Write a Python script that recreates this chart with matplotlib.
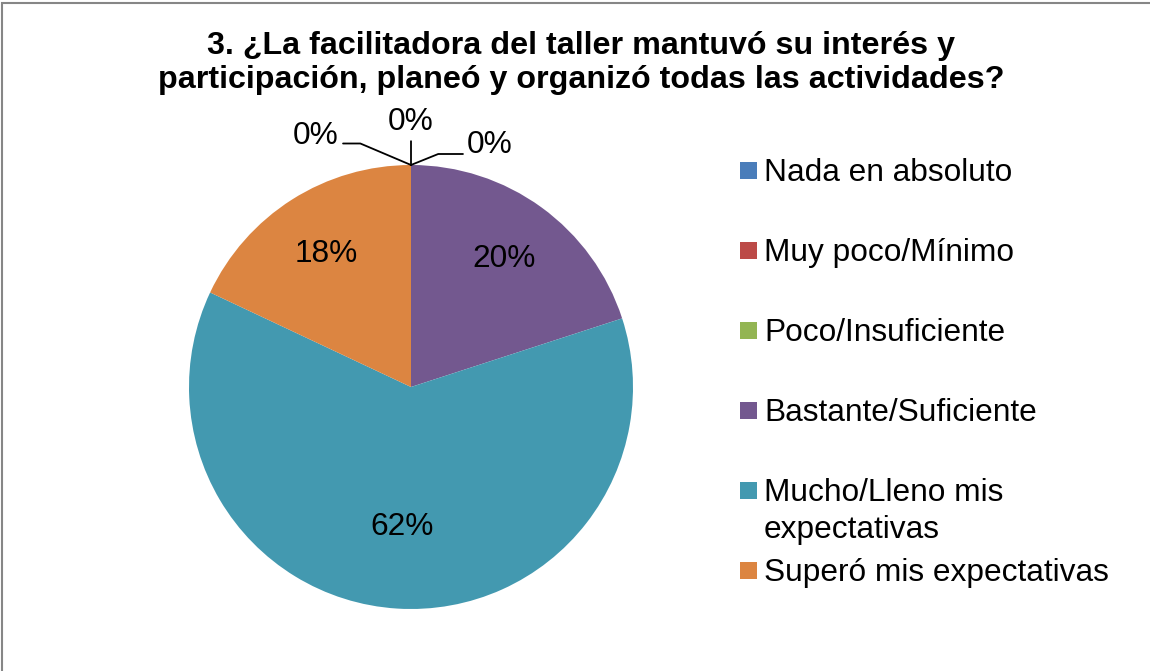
import numpy as np
import matplotlib
matplotlib.use("Agg")
import matplotlib.pyplot as plt
from matplotlib.patches import Rectangle

plt.rcParams["font.family"] = ["Liberation Sans", "DejaVu Sans"]

# data
categorias = ["Nada en absoluto", "Muy poco/Mínimo", "Poco/Insuficiente",
              "Bastante/Suficiente", "Mucho/Lleno mis\nexpectativas",
              "Superó mis expectativas"]
porcentajes = [0, 0, 0, 20, 62, 18]
colores = ["#4a7dba", "#bc4a47", "#93b553", "#73588f", "#4399b0", "#dc8541"]
titulo = "3. ¿La facilitadora del taller mantuvó su interés y\nparticipación, planeó y organizó todas las actividades?"

W, H = 1150, 671
fig = plt.figure(figsize=(W / 100, H / 100), dpi=100)

# chart border (only left/top visible in the crop)
fig.patches.append(Rectangle((2 / W, -0.1), 1.2, 1.1 - 2.5 / H, transform=fig.transFigure,
                             fill=False, edgecolor="#868686", linewidth=1.5))

# pie axes: centre (411, 387), radius 222 px
cx, cy, r = 411, 387, 222
ax = fig.add_axes([(cx - r) / W, (H - cy - r) / H, 2 * r / W, 2 * r / H])
wedges, _ = ax.pie(porcentajes, colors=colores, startangle=90, counterclock=False,
                   radius=1, wedgeprops=dict(linewidth=0))
ax.set_xlim(-1, 1)
ax.set_ylim(-1, 1)
ax.set_aspect("auto")
ax.axis("off")

fs = 22.8
dist = {3: 0.71, 4: 0.63, 5: 0.71}
ceros = []
for i, (w, p) in enumerate(zip(wedges, porcentajes)):
    ang = np.deg2rad((w.theta1 + w.theta2) / 2)
    if p > 0:
        d = dist.get(i, 0.7)
        ax.text(d * np.cos(ang), d * np.sin(ang), f"{p}%", ha="center", va="center",
                fontsize=fs)
    else:
        ceros.append((i, ang))

# zero-valued slices: labels with leader lines
offs = [(-95, 29, (1, 0.25), "angle,angleA=0,angleB=157,rad=0"),
        (0, 43, (0.5, 0.0), "arc3"),
        (79, 20, (0, 0.2), "angle,angleA=180,angleB=22,rad=0")]
for (i, ang), (dx, dy, rel, conn) in zip(ceros, offs):
    ax.annotate(f"{porcentajes[i]}%", xy=(np.cos(ang), np.sin(ang)),
                xytext=(dx, dy), textcoords="offset pixels",
                ha="center", va="center", fontsize=fs, annotation_clip=False,
                arrowprops=dict(arrowstyle="-", color="black", lw=1.3,
                                relpos=rel, connectionstyle=conn,
                                shrinkA=1, shrinkB=0))

# legend drawn by hand so every entry sits on a fixed 80 px step
lx, ly, paso, lado, interlinea = 740, 170, 80, 17, 37
for i, (lab, col) in enumerate(zip(categorias, colores)):
    yc = ly + i * paso
    fig.patches.append(Rectangle((lx / W, (H - yc - lado / 2) / H), lado / W, lado / H,
                                 transform=fig.transFigure, facecolor=col,
                                 edgecolor="none"))
    for k, linea in enumerate(lab.split("\n")):
        fig.text((lx + 24) / W, (H - yc - 11 - k * interlinea) / H, linea, fontsize=fs,
                 va="baseline", ha="left")

fig.text(581 / W, (H - 63) / H, titulo, fontsize=23.2, fontweight="bold",
         ha="center", va="center", linespacing=1.15)

fig.savefig("out.png", dpi=100, facecolor="white")
